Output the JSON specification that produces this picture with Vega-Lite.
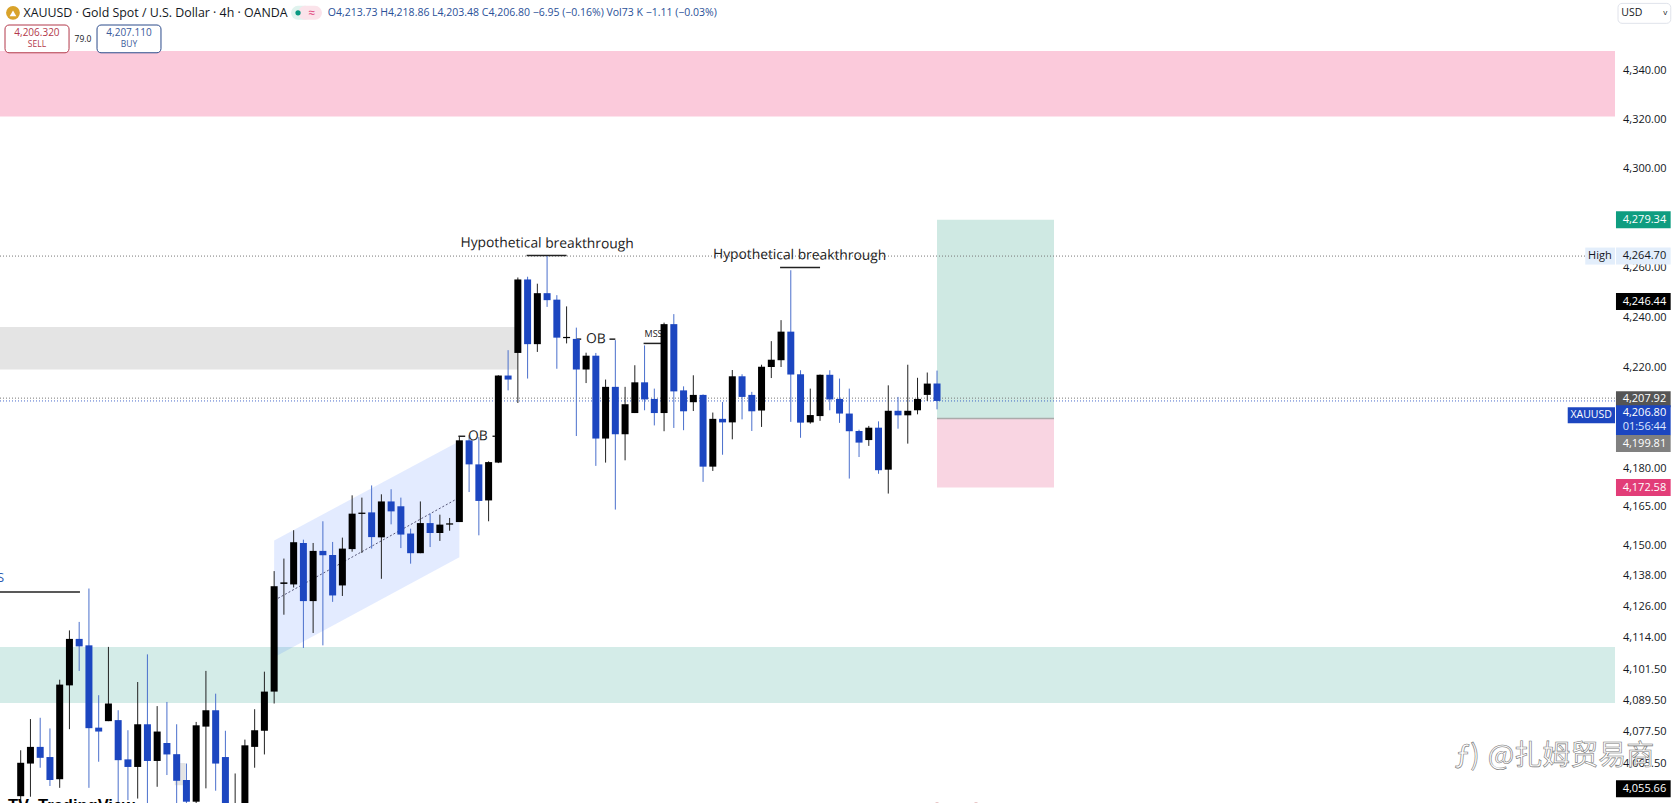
{"$schema":"https://vega.github.io/schema/vega-lite/v6.json","width":1615,"height":803,"autosize":{"type":"none"},"padding":{"left":0,"top":0,"right":59,"bottom":0},"background":"#ffffff","config":{"view":{"stroke":null},"text":{"font":"Open Sans"}},
"datasets":{"candles":[
{"t":2,"o":4052.8,"h":4070.4,"l":4046,"c":4065.6},{"t":3,"o":4065.3,"h":4082.4,"l":4052.6,"c":4071.7},{"t":4,"o":4071.7,"h":4082.9,"l":4063.7,"c":4067.5},{"t":5,"o":4067.8,"h":4078.8,"l":4056.7,"c":4059},{"t":6,"o":4059.3,"h":4097.6,"l":4056,"c":4095.7},{"t":7,"o":4095.4,"h":4116.7,"l":4078.5,"c":4113.4},{"t":8,"o":4113.4,"h":4120,"l":4101,"c":4110.5},{"t":9,"o":4110.9,"h":4133,"l":4056,"c":4078.9},{"t":10,"o":4079.1,"h":4091.6,"l":4066,"c":4077.6},{"t":11,"o":4081.6,"h":4110.3,"l":4081.6,"c":4088.4},{"t":12,"o":4082,"h":4085.8,"l":4049,"c":4066.6},{"t":13,"o":4066.9,"h":4078.1,"l":4051.3,"c":4064},{"t":14,"o":4064,"h":4096.7,"l":4051.9,"c":4080.4},{"t":15,"o":4080.4,"h":4107.4,"l":4045,"c":4066.3},{"t":16,"o":4066.3,"h":4087.4,"l":4056.4,"c":4077.6},{"t":17,"o":4073.2,"h":4089,"l":4060.9,"c":4068.8},{"t":18,"o":4068.9,"h":4080.4,"l":4045,"c":4058.7},{"t":19,"o":4059,"h":4065.3,"l":4045,"c":4050.7},{"t":20,"o":4050.7,"h":4081.3,"l":4045,"c":4080},{"t":21,"o":4079.5,"h":4101,"l":4055.8,"c":4085.8},{"t":22,"o":4085.8,"h":4092.2,"l":4054.9,"c":4065.3},{"t":23,"o":4067.8,"h":4077.9,"l":4040,"c":4045},{"t":24,"o":4040,"h":4061.5,"l":4035,"c":4048},{"t":25,"o":4040,"h":4074.5,"l":4035,"c":4072.3},{"t":26,"o":4071.7,"h":4086.2,"l":4063.7,"c":4078.1},{"t":27,"o":4077.9,"h":4100.7,"l":4068.8,"c":4093},{"t":28,"o":4093,"h":4139.8,"l":4088.4,"c":4133.9},{"t":29,"o":4134.8,"h":4144.7,"l":4122.8,"c":4135.4},{"t":30,"o":4134.6,"h":4155.8,"l":4133.4,"c":4151.1},{"t":31,"o":4150.8,"h":4152.1,"l":4109.9,"c":4128.1},{"t":32,"o":4128.1,"h":4150.8,"l":4115.7,"c":4147.7},{"t":33,"o":4147.7,"h":4159.3,"l":4110.9,"c":4146},{"t":34,"o":4146.1,"h":4151.2,"l":4127.8,"c":4130.3},{"t":35,"o":4134.2,"h":4152.9,"l":4130.1,"c":4148.6},{"t":36,"o":4148.4,"h":4169.5,"l":4147.4,"c":4162.3},{"t":37,"o":4162.2,"h":4168.6,"l":4146.9,"c":4162.7},{"t":38,"o":4162.8,"h":4173.4,"l":4148.6,"c":4153.1},{"t":39,"o":4153,"h":4169.9,"l":4136.8,"c":4167.1},{"t":40,"o":4167.1,"h":4171.9,"l":4158.1,"c":4163.2},{"t":41,"o":4165.2,"h":4168.6,"l":4148.8,"c":4154.1},{"t":42,"o":4154.5,"h":4156.4,"l":4142.7,"c":4146.8},{"t":43,"o":4146.8,"h":4167.1,"l":4146.8,"c":4158.6},{"t":44,"o":4158.6,"h":4162.3,"l":4149.2,"c":4154.7},{"t":45,"o":4154.7,"h":4161.9,"l":4151.6,"c":4158},{"t":46,"o":4158,"h":4160.6,"l":4155.6,"c":4158.5},{"t":47,"o":4159,"h":4192.8,"l":4159,"c":4191.2},{"t":48,"o":4191.2,"h":4193.2,"l":4170.8,"c":4181.7},{"t":49,"o":4181.7,"h":4192.5,"l":4153.8,"c":4167.3},{"t":50,"o":4167.5,"h":4182.9,"l":4159.3,"c":4182.6},{"t":51,"o":4182.4,"h":4217,"l":4182.2,"c":4216.9},{"t":52,"o":4216.9,"h":4227,"l":4211,"c":4215.3},{"t":53,"o":4225.9,"h":4256.1,"l":4206,"c":4255.3},{"t":54,"o":4255.3,"h":4256.4,"l":4215.7,"c":4229.4},{"t":55,"o":4229.4,"h":4253.6,"l":4226.3,"c":4249.8},{"t":56,"o":4249.8,"h":4264.7,"l":4244.3,"c":4247},{"t":57,"o":4247.2,"h":4249,"l":4219.6,"c":4232},{"t":58,"o":4231.8,"h":4244.5,"l":4229.7,"c":4232.3},{"t":59,"o":4231.5,"h":4236,"l":4192.9,"c":4219.3},{"t":60,"o":4219.3,"h":4226,"l":4213.9,"c":4224.8},{"t":61,"o":4224.8,"h":4225.9,"l":4181.1,"c":4191.9},{"t":62,"o":4191.9,"h":4215.3,"l":4182.4,"c":4212.4},{"t":63,"o":4212.4,"h":4231,"l":4163.9,"c":4193.6},{"t":64,"o":4193.6,"h":4212.4,"l":4183.3,"c":4205.5},{"t":65,"o":4202,"h":4221,"l":4202,"c":4214.2},{"t":66,"o":4214.2,"h":4228.9,"l":4203.1,"c":4207.4},{"t":67,"o":4207.6,"h":4211.7,"l":4197.1,"c":4202},{"t":68,"o":4202,"h":4238,"l":4194.8,"c":4237.4},{"t":69,"o":4237.4,"h":4241.4,"l":4196.1,"c":4210.6},{"t":70,"o":4211,"h":4212.6,"l":4195.2,"c":4202.7},{"t":71,"o":4206.3,"h":4217,"l":4202.8,"c":4209.2},{"t":72,"o":4209.2,"h":4209.4,"l":4174.8,"c":4180.8},{"t":73,"o":4180.8,"h":4202.2,"l":4179.1,"c":4199.7},{"t":74,"o":4199.7,"h":4206.4,"l":4185.5,"c":4198.3},{"t":75,"o":4198.3,"h":4219.1,"l":4191.6,"c":4216.6},{"t":76,"o":4216.6,"h":4217.4,"l":4199.5,"c":4208.4},{"t":77,"o":4209.2,"h":4210.4,"l":4194.9,"c":4202.7},{"t":78,"o":4203,"h":4221.2,"l":4196.5,"c":4220.4},{"t":79,"o":4220.3,"h":4230.6,"l":4215.9,"c":4223.2},{"t":80,"o":4223,"h":4239,"l":4220.3,"c":4234.4},{"t":81,"o":4234.4,"h":4259,"l":4198.5,"c":4217.3},{"t":82,"o":4217.4,"h":4219,"l":4192.2,"c":4198.2},{"t":83,"o":4198.3,"h":4211.7,"l":4197.8,"c":4201.2},{"t":84,"o":4200.8,"h":4217.3,"l":4198.9,"c":4217.2},{"t":85,"o":4217.2,"h":4219,"l":4203.1,"c":4207.4},{"t":86,"o":4207.6,"h":4215.7,"l":4198.1,"c":4201.8},{"t":87,"o":4201.8,"h":4211.7,"l":4176.1,"c":4194.8},{"t":88,"o":4194.9,"h":4195.4,"l":4184.6,"c":4190.3},{"t":89,"o":4191.3,"h":4196.9,"l":4189,"c":4196.2},{"t":90,"o":4196.2,"h":4198.7,"l":4178,"c":4179.4},{"t":91,"o":4179.6,"h":4213,"l":4170.2,"c":4202.9},{"t":92,"o":4202.9,"h":4208.4,"l":4195.8,"c":4201.1},{"t":93,"o":4201.1,"h":4221.2,"l":4189.9,"c":4202.9},{"t":94,"o":4203.1,"h":4216,"l":4201.5,"c":4207.6},{"t":95,"o":4209.2,"h":4218.1,"l":4206.8,"c":4213.7},{"t":96,"o":4213.73,"h":4218.86,"l":4203.48,"c":4206.8}
]},
"encoding":{"x":{"field":"t","type":"quantitative","scale":{"domain":[-0.123,165.55],"nice":false,"zero":false},"axis":null},"y":{"field":"p","type":"quantitative","scale":{"type":"log","domain":[4050.2,4369],"nice":false},"axis":{"orient":"right","title":null,"values":[4340,4320,4300,4260,4240,4220,4180,4165,4150,4138,4126,4114,4101.5,4089.5,4077.5,4065.5],"format":",.2f","domain":false,"ticks":false,"grid":false,"labelAlign":"right","labelBaseline":"middle","labelPadding":51,"labelFont":"Open Sans","labelFontSize":11,"labelColor":"#131722","labelOverlap":false,"labelBound":false,"labelFlush":false}}},
"resolve":{"scale":{"color":"independent"}},
"layer":[
{"data":{"values":[{"zone":"sup","t":-0.123,"t2":165.55,"p":4348,"p2":4321.2},{"zone":"ob","t":-0.123,"t2":53,"p":4236.3,"p2":4219.3},{"zone":"dem","t":-0.123,"t2":165.55,"p":4110.3,"p2":4088.6},{"zone":"ob","t":17.8,"t2":18.9,"p":4065.5,"p2":4057},{"zone":"profit","t":96,"t2":108,"p":4279.34,"p2":4199.81},{"zone":"stop","t":96,"t2":108,"p":4199.81,"p2":4172.58}]},"mark":{"type":"rect"},"encoding":{"x2":{"field":"t2"},"y2":{"field":"p2"},"color":{"field":"zone","type":"nominal","legend":null,"scale":{"domain":["sup","ob","dem","profit","stop"],"range":["#fbcadb","#e4e4e4","#d4ece8","#cfe9e3","#f9d5e2"]}}}},
{"data":{"values":[{"t":28,"p":4151.8,"p2":4106.3},{"t":47,"p":4190.8,"p2":4145.2}]},"mark":{"type":"area","color":"#2962ff","opacity":0.13},"encoding":{"y2":{"field":"p2"}}},
{"data":{"values":[{"t":-0.123,"t2":162.5,"p":4264.7},{"t":-0.123,"t2":165.55,"p":4207.92}]},"mark":{"type":"rule","color":"#777777","strokeWidth":1,"strokeDash":[1,2]},"encoding":{"x2":{"field":"t2"}}},
{"data":{"values":[{"t":-0.123,"t2":165.55,"p":4206.8}]},"mark":{"type":"rule","color":"#1c46c0","strokeWidth":1,"strokeDash":[1,2],"opacity":0.8},"encoding":{"x2":{"field":"t2"}}},
{"data":{"values":[{"t":28.4,"p":4129.2},{"t":46.6,"p":4167.8}]},"mark":{"type":"line","color":"#555577","strokeWidth":1,"strokeDash":[2,2]},"encoding":{}},
{"data":{"values":[{"t":96,"t2":108,"p":4199.81}]},"mark":{"type":"rule","color":"#aaaaaa","strokeWidth":1.5},"encoding":{"x2":{"field":"t2"}}},
{"data":{"values":[{"t":-0.123,"t2":8.08,"p":4131.6},{"t":53.9,"t2":58,"p":4264.9},{"t":79.9,"t2":84,"p":4260.1},{"t":59,"t2":59.5,"p":4231.4},{"t":62.4,"t2":63,"p":4231.4},{"t":46.9,"t2":47.6,"p":4192.8},{"t":50.4,"t2":50.65,"p":4192.8},{"t":65.9,"t2":67.7,"p":4229.7}]},"mark":{"type":"rule","color":"#222222","strokeWidth":1.5},"encoding":{"x2":{"field":"t2"}}},
{"data":{"values":[{"t":66,"p":4233.35,"label":"MSS"}]},"mark":{"type":"text","align":"left","baseline":"middle","fontSize":9,"color":"#222222"},"encoding":{"text":{"field":"label"}}},
{"data":{"values":[{"t":0.3,"p":4137,"label":"S"}]},"mark":{"type":"text","align":"right","baseline":"middle","fontSize":13,"color":"#2a5bb0"},"encoding":{"text":{"field":"label"}}},
{"data":{"name":"candles"},"mark":{"type":"rule","strokeWidth":1},"encoding":{"y":{"field":"l","type":"quantitative","scale":{"type":"log","domain":[4050.2,4369],"nice":false},"axis":{"orient":"right","title":null,"values":[4340,4320,4300,4260,4240,4220,4180,4165,4150,4138,4126,4114,4101.5,4089.5,4077.5,4065.5],"format":",.2f","domain":false,"ticks":false,"grid":false,"labelAlign":"right","labelBaseline":"middle","labelPadding":51,"labelFont":"Open Sans","labelFontSize":11,"labelColor":"#131722","labelOverlap":false,"labelBound":false,"labelFlush":false}},"y2":{"field":"h"},"color":{"condition":{"test":"datum.c<datum.o","value":"#4a6fcc"},"value":"#222222"}}},
{"data":{"name":"candles"},"mark":{"type":"rule","strokeWidth":7},"encoding":{"y":{"field":"o","type":"quantitative","scale":{"type":"log","domain":[4050.2,4369],"nice":false},"axis":{"orient":"right","title":null,"values":[4340,4320,4300,4260,4240,4220,4180,4165,4150,4138,4126,4114,4101.5,4089.5,4077.5,4065.5],"format":",.2f","domain":false,"ticks":false,"grid":false,"labelAlign":"right","labelBaseline":"middle","labelPadding":51,"labelFont":"Open Sans","labelFontSize":11,"labelColor":"#131722","labelOverlap":false,"labelBound":false,"labelFlush":false}},"y2":{"field":"c"},"color":{"condition":{"test":"datum.c<datum.o","value":"#1c46c0"},"value":"#000000"}}},
{"data":{"values":[{"t":56,"p":4269.7,"label":"Hypothetical breakthrough"},{"t":81.9,"p":4265,"label":"Hypothetical breakthrough"},{"t":61,"p":4231.4,"label":"OB"},{"t":48.9,"p":4192.8,"label":"OB"}]},"mark":{"type":"text","align":"center","baseline":"middle","fontSize":13.8,"angle":0.5,"color":"#222222"},"encoding":{"text":{"field":"label"}}},
{"data":{"values":[{"t":165.65,"t2":171.26,"p":4279.34,"tag":"tp"},{"t":165.65,"t2":171.26,"p":4264.7,"tag":"high"},{"t":162.5,"t2":165.55,"p":4264.7,"tag":"high"},{"t":165.65,"t2":171.26,"p":4246.44,"tag":"black"},{"t":165.65,"t2":171.26,"p":4172.58,"tag":"sl"},{"t":165.65,"t2":171.26,"p":4055.66,"tag":"black"}]},"mark":{"type":"rule","strokeWidth":17},"encoding":{"x2":{"field":"t2"},"color":{"field":"tag","type":"nominal","legend":null,"scale":{"domain":["tp","high","black","sl"],"range":["#0f9d80","#e3eefb","#000000","#e23d78"]}}}},
{"data":{"values":[{"t":165.65,"t2":171.26,"p":4207.92}]},"mark":{"type":"rule","strokeWidth":16,"color":"#555555","yOffset":1},"encoding":{"x2":{"field":"t2"}}},
{"data":{"values":[{"t":165.65,"t2":171.26,"p":4206.8}]},"mark":{"type":"rule","strokeWidth":30,"color":"#1c46c0","yOffset":19.4},"encoding":{"x2":{"field":"t2"}}},
{"data":{"values":[{"t":160.7,"t2":165.55,"p":4206.8}]},"mark":{"type":"rule","strokeWidth":16,"color":"#1c46c0","yOffset":14.4},"encoding":{"x2":{"field":"t2"}}},
{"data":{"values":[{"t":165.65,"t2":171.26,"p":4199.81}]},"mark":{"type":"rule","strokeWidth":17,"color":"#808080","yOffset":25},"encoding":{"x2":{"field":"t2"}}},
{"data":{"values":[{"t":170.8,"p":4279.34},{"t":170.8,"p":4246.44},{"t":170.8,"p":4172.58},{"t":170.8,"p":4055.66}]},"mark":{"type":"text","align":"right","baseline":"middle","fontSize":11,"color":"#ffffff"},"encoding":{"text":{"field":"p","type":"quantitative","format":",.2f"}}},
{"data":{"values":[{"t":170.8,"p":4264.7}]},"mark":{"type":"text","align":"right","baseline":"middle","fontSize":11,"color":"#131722"},"encoding":{"text":{"field":"p","type":"quantitative","format":",.2f"}}},
{"data":{"values":[{"t":164,"p":4264.7,"label":"High"}]},"mark":{"type":"text","align":"center","baseline":"middle","fontSize":11,"color":"#131722"},"encoding":{"text":{"field":"label"}}},
{"data":{"values":[{"t":170.8,"p":4207.92}]},"mark":{"type":"text","align":"right","baseline":"middle","fontSize":11,"color":"#ffffff","yOffset":1},"encoding":{"text":{"field":"p","type":"quantitative","format":",.2f"}}},
{"data":{"values":[{"t":170.8,"p":4206.8}]},"mark":{"type":"text","align":"right","baseline":"middle","fontSize":11,"color":"#ffffff","yOffset":12.4},"encoding":{"text":{"field":"p","type":"quantitative","format":",.2f"}}},
{"data":{"values":[{"t":170.8,"p":4206.8,"label":"01:56:44"}]},"mark":{"type":"text","align":"right","baseline":"middle","fontSize":11,"color":"#dfe8ff","yOffset":26.4},"encoding":{"text":{"field":"label"}}},
{"data":{"values":[{"t":163.1,"p":4206.8,"label":"XAUUSD"}]},"mark":{"type":"text","align":"center","baseline":"middle","fontSize":10.5,"color":"#ffffff","yOffset":14.4},"encoding":{"text":{"field":"label"}}},
{"data":{"values":[{"t":170.8,"p":4199.81}]},"mark":{"type":"text","align":"right","baseline":"middle","fontSize":11,"color":"#ffffff","yOffset":25},"encoding":{"text":{"field":"p","type":"quantitative","format":",.2f"}}},
{"data":{"values":[{"t":165.86,"t2":171.27,"p":4367.6,"p2":4359.4}]},"mark":{"type":"rect","fill":"#ffffff","stroke":"#e0e3eb","cornerRadius":4},"encoding":{"x2":{"field":"t2"},"y2":{"field":"p2"}}},
{"data":{"values":[{"t":166.2,"p":4363.5,"label":"USD"}]},"mark":{"type":"text","align":"left","baseline":"middle","fontSize":10.5,"color":"#131722"},"encoding":{"text":{"field":"label"}}},
{"data":{"values":[{"t":170.7,"p":4363.7,"label":"v"}]},"mark":{"type":"text","align":"center","baseline":"middle","fontSize":8,"color":"#131722"},"encoding":{"text":{"field":"label"}}},
{"data":{"values":[{"t":1.21,"p":4363.7}]},"mark":{"type":"point","shape":"circle","filled":true,"size":190,"color":"#d9a32a","opacity":1},"encoding":{}},
{"data":{"values":[{"t":1.21,"p":4363.5}]},"mark":{"type":"point","shape":"triangle-up","filled":true,"size":45,"color":"#ffffff","opacity":1},"encoding":{}},
{"data":{"values":[{"t":2.29,"p":4363.7,"label":"XAUUSD · Gold Spot / U.S. Dollar · 4h · OANDA"}]},"mark":{"type":"text","align":"left","baseline":"middle","fontSize":12.4,"color":"#131722"},"encoding":{"text":{"field":"label"}}},
{"data":{"values":[{"t":30.45,"t2":31.17,"p":4363.7}]},"mark":{"type":"rule","strokeWidth":14,"strokeCap":"round","color":"#e0f3ee"},"encoding":{"x2":{"field":"t2"}}},
{"data":{"values":[{"t":31.17,"t2":32.19,"p":4363.7}]},"mark":{"type":"rule","strokeWidth":14,"strokeCap":"round","color":"#fbe3ea"},"encoding":{"x2":{"field":"t2"}}},
{"data":{"values":[{"t":30.45,"p":4363.7}]},"mark":{"type":"point","shape":"circle","filled":true,"size":28,"color":"#089981","opacity":1},"encoding":{}},
{"data":{"values":[{"t":31.88,"p":4363.7,"label":"≈"}]},"mark":{"type":"text","align":"center","baseline":"middle","fontSize":12,"color":"#e0407a"},"encoding":{"text":{"field":"label"}}},
{"data":{"values":[{"t":33.5,"p":4363.7,"label":"O4,213.73  H4,218.86  L4,203.48  C4,206.80  −6.95 (−0.16%)  Vol73 K  −1.11 (−0.03%)"}]},"mark":{"type":"text","align":"left","baseline":"middle","fontSize":10.5,"color":"#2a5098"},"encoding":{"text":{"field":"label"}}},
{"data":{"values":[{"t":0.39,"t2":6.96,"p":4358.7,"p2":4347.3}]},"mark":{"type":"rect","fill":"#ffffff","stroke":"#b2384a","cornerRadius":4},"encoding":{"x2":{"field":"t2"},"y2":{"field":"p2"}}},
{"data":{"values":[{"t":9.83,"t2":16.39,"p":4358.7,"p2":4347.3}]},"mark":{"type":"rect","fill":"#ffffff","stroke":"#2a4a8a","cornerRadius":4},"encoding":{"x2":{"field":"t2"},"y2":{"field":"p2"}}},
{"data":{"values":[{"t":3.67,"p":4355.5,"label":"4,206.320"}]},"mark":{"type":"text","align":"center","baseline":"middle","fontSize":10,"color":"#b2384a"},"encoding":{"text":{"field":"label"}}},
{"data":{"values":[{"t":3.67,"p":4350.9,"label":"SELL"}]},"mark":{"type":"text","align":"center","baseline":"middle","fontSize":8.5,"color":"#b2384a"},"encoding":{"text":{"field":"label"}}},
{"data":{"values":[{"t":13.11,"p":4355.5,"label":"4,207.110"}]},"mark":{"type":"text","align":"center","baseline":"middle","fontSize":10,"color":"#3a5a9a"},"encoding":{"text":{"field":"label"}}},
{"data":{"values":[{"t":13.11,"p":4350.9,"label":"BUY"}]},"mark":{"type":"text","align":"center","baseline":"middle","fontSize":8.5,"color":"#3a5a9a"},"encoding":{"text":{"field":"label"}}},
{"data":{"values":[{"t":8.39,"p":4352.9,"label":"79.0"}]},"mark":{"type":"text","align":"center","baseline":"middle","fontSize":8.5,"color":"#131722"},"encoding":{"text":{"field":"label"}}},
{"data":{"values":[{"t":3.78,"p":4047.1,"label":"TradingView"},{"t":0.7,"p":4047.1,"label":"TV"}]},"mark":{"type":"text","align":"left","baseline":"alphabetic","fontSize":16.5,"fontWeight":"bold","font":"Liberation Sans","color":"#000000"},"encoding":{"text":{"field":"label"}}},
{"data":{"values":[{"t":149.1,"p":4067.8,"label":"ƒ)"},{"t":152.5,"p":4067.8,"label":"@扎姆贸易商"}]},"mark":{"type":"text","align":"left","baseline":"middle","fontSize":28,"font":"Noto Sans CJK SC","fill":"#ffffff","stroke":"#777777","strokeWidth":0.6},"encoding":{"text":{"field":"label"}}},
{"data":{"values":[{"t":96,"p":4049.4},{"t":100,"p":4049.4}]},"mark":{"type":"point","shape":"circle","filled":true,"size":30,"color":"#cc7777","opacity":0.6},"encoding":{}}
]}
